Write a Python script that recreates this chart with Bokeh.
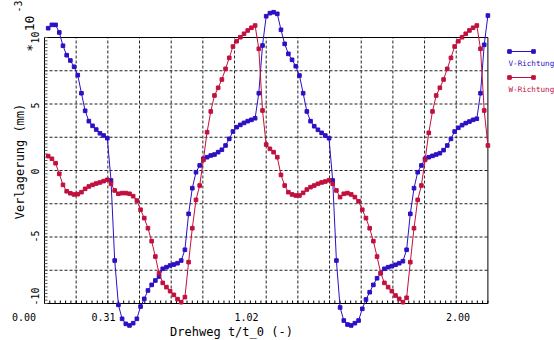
import math
from bokeh.plotting import figure
from bokeh.models import Range1d
from bokeh.core.properties import value
from bokeh.embed import file_html
from bokeh.resources import INLINE

# ---------------- data ----------------
x_values = [(i + 1) / 60 for i in range(120)]   # sampling grid t/t_0

v_richtung = [
    10.70, 10.95, 10.95, 10.38, 9.38, 8.67, 8.27, 7.80, 7.17, 5.81, 4.49, 3.71, 3.36, 3.08, 2.80, 2.63, 2.43,
    -0.75, -6.77, -10.10, -11.15, -11.53, -11.65, -11.48, -11.15, -10.23, -9.65, -9.02, -8.60, -8.27, -7.97,
    -7.39, -7.27, -7.14, -7.07, -6.97, -6.77, -5.96, -3.26, -1.33, -0.13, 0.38, 0.88, 1.00, 1.13, 1.20,
    1.38, 1.56, 1.88, 2.38, 2.93, 3.26, 3.43, 3.58, 3.71, 3.81, 3.93, 5.81, 9.40,
    11.60, 11.83, 11.90, 11.78, 10.58, 9.52, 8.77, 8.32, 7.84, 7.14, 5.81, 4.44, 3.71, 3.33, 3.06, 2.83, 2.63, 2.43,
    -0.75, -6.77, -10.30, -11.28, -11.58, -11.65, -11.48, -11.28, -10.40, -9.70, -9.15, -8.60, -8.10, -7.72,
    -7.39, -7.27, -7.19, -7.09, -6.97, -6.82, -5.96, -3.26, -1.33, -0.13, 0.38, 0.88, 1.00, 1.10, 1.20, 1.30,
    1.53, 1.88, 2.38, 2.93, 3.21, 3.41, 3.56, 3.68, 3.81, 3.89, 5.81, 9.45, 11.65,
]

w_richtung = [
    1.08, 0.88, 0.55, -0.25, -1.08, -1.56, -1.71, -1.80, -1.78, -1.63, -1.38, -1.20, -1.08, -0.98, -0.90, -0.80, -0.70,
    -1.00, -1.50, -1.75, -1.70, -1.70, -1.75, -1.93, -2.26, -2.95, -3.58, -4.34, -5.31, -6.47, -7.72, -8.45,
    -8.77, -9.07, -9.35, -9.67, -9.90, -9.52, -6.89, -4.34, -2.21, -1.13, 0.80, 2.88,
    4.44, 5.64, 6.22, 6.84, 7.64, 8.47, 9.32, 9.72, 10.02, 10.28, 10.53, 10.73, 10.90, 9.15, 4.51,
    1.95, 1.63, 1.38, 1.00, -0.33, -1.13, -1.63, -1.80, -1.88, -1.88, -1.68, -1.43, -1.25, -1.13, -1.00, -0.90, -0.83, -0.73,
    -1.00, -1.50, -2.00, -1.75, -1.70, -1.80, -2.00, -2.31, -2.95, -3.58, -4.34, -5.31, -6.47, -7.72, -8.45,
    -8.77, -9.07, -9.40, -9.65, -9.90, -9.57, -6.89, -4.34, -2.21, -1.13, 0.80, 2.83,
    4.44, 5.64, 6.22, 6.84, 7.64, 8.47, 9.32, 9.72, 10.02, 10.28, 10.53, 10.73, 10.90, 9.15, 4.51, 1.88,
]

x_tick_labels = ["0.00", "0.31", "1.02", "2.00"]
y_tick_values = [-10, -5, 0, 5, 10]
y_tick_labels = ["-10", "-5", "0", "5", "10"]
series_names = ["V-Richtung", "W-Richtung"]

# ---------------- layout / style ----------------
W, H = 554, 340
PX0, PXU = 44.0, 221.7      # pixel of x=0, pixels per unit
PY0, PYU = 170.0, 13.3      # pixel of y=0, pixels per unit (per 1e-3 mm)

def dx(px):
    return (px - PX0) / PXU

def dy(py):
    return (PY0 - py) / PYU

BLUE = "#2c10c4"
RED = "#c2103e"
FONT = value("DejaVu Sans Mono")

p = figure(width=W, height=H,
           x_range=Range1d(dx(0), dx(W)), y_range=Range1d(dy(H), dy(0)),
           x_axis_location=None, y_axis_location=None,
           toolbar_location=None, output_backend="svg",
           min_border=0, outline_line_color=None)
p.grid.visible = False
p.background_fill_color = "white"
p.border_fill_color = "white"

XMIN, XMAX, YMIN, YMAX = 0.0, 2.0, -10.0, 10.0

# dashed grid
vgx = [k / 7 for k in range(1, 14)]
p.segment(x0=vgx, y0=[YMIN] * len(vgx), x1=vgx, y1=[YMAX] * len(vgx),
          line_color="#222222", line_width=1, line_dash="3 2")
hgy = [-7.5, -5, -2.5, 0, 2.5, 5, 7.5]
p.segment(x0=[XMIN] * len(hgy), y0=hgy, x1=[XMAX] * len(hgy), y1=hgy,
          line_color="#222222", line_width=1, line_dash="3 2")

# frame box
p.quad(left=[XMIN], right=[XMAX], bottom=[YMIN], top=[YMAX],
       fill_color=None, line_color="black", line_width=1)

# minor ticks (bottom, pointing in)
bt = [k / 42 for k in range(0, 85)]
tl_y = 3 / PYU
p.segment(x0=bt, y0=[YMIN] * len(bt), x1=bt, y1=[YMIN + tl_y] * len(bt),
          line_color="black", line_width=1)
# minor ticks (left, pointing in)
lt = [YMIN + k * 0.25 for k in range(0, 81)]
tl_x = 3 / PXU
p.segment(x0=[XMIN] * len(lt), y0=lt, x1=[XMIN + tl_x] * len(lt), y1=lt,
          line_color="#555555", line_width=1)

# series
for vals, col in ((v_richtung, BLUE), (w_richtung, RED)):
    p.line(x_values, vals, line_color=col, line_width=1)
    p.scatter(x_values, vals, marker="square", size=3.6, fill_color=col, line_color=col)

# x tick labels
p.text(x=[dx(23.5), dx(103), dx(246), dx(457.5)], y=[dy(316)] * 4, text=x_tick_labels,
       text_font=FONT, text_font_size="10px", text_align="center", text_baseline="middle",
       text_color="black")
# y tick labels (rotated)
p.text(x=[dx(34)] * 5, y=[dy(296), dy(236), dy(171), dy(105), dy(37)], text=y_tick_labels,
       text_font=FONT, text_font_size="10px", text_align="center", text_baseline="middle",
       angle=math.pi / 2, text_color="black")

# axis titles
p.text(x=[dx(231)], y=[dy(331)], text=["Drehweg t/t_0 (-)"],
       text_font=FONT, text_font_size="12px", text_align="center", text_baseline="middle",
       text_color="black")
p.text(x=[dx(19)], y=[dy(161)], text=["Verlagerung (mm)"],
       text_font=FONT, text_font_size="12px", text_align="center", text_baseline="middle",
       angle=math.pi / 2, text_color="black")

# scale factor *10^-3
p.text(x=[dx(29)], y=[dy(47)], text=["∗"],
       text_font=FONT, text_font_size="13px", text_align="center", text_baseline="middle",
       angle=math.pi / 2, text_color="black")
p.text(x=[dx(29)], y=[dy(23)], text=["10"],
       text_font=FONT, text_font_size="13px", text_align="center", text_baseline="middle",
       angle=math.pi / 2, text_color="black")
p.text(x=[dx(17)], y=[dy(6)], text=["-3"],
       text_font=FONT, text_font_size="10px", text_align="center", text_baseline="middle",
       angle=math.pi / 2, text_color="black")

# legend
for name, col, ly, ty in ((series_names[0], BLUE, 51, 63), (series_names[1], RED, 77, 89)):
    p.line([dx(509), dx(533)], [dy(ly), dy(ly)], line_color=col, line_width=1)
    p.scatter([dx(509), dx(533)], [dy(ly), dy(ly)], marker="square", size=3.6,
              fill_color=col, line_color=col)
    p.text(x=[dx(508)], y=[dy(ty)], text=[name], text_font=FONT, text_font_size="7.6px",
           text_align="left", text_baseline="middle", text_color=col)

open("out.html", "w").write(file_html(p, INLINE))
